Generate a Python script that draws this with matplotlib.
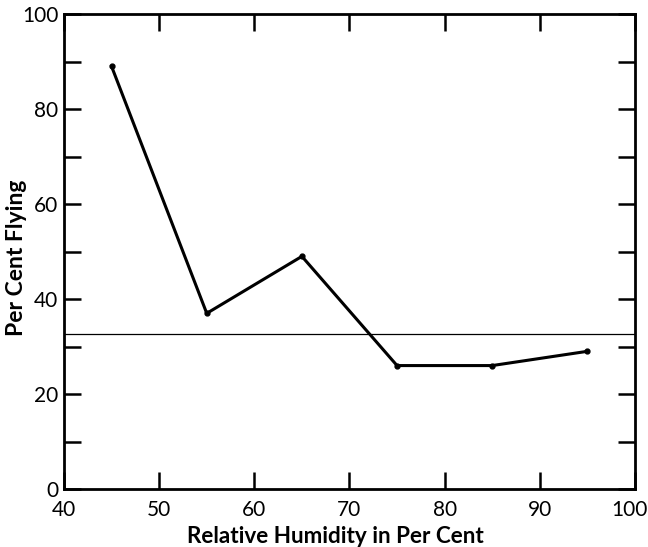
import numpy as np
import matplotlib
matplotlib.use("Agg")
import matplotlib.pyplot as plt
from matplotlib.transforms import ScaledTranslation

# relative humidity (%) vs per cent flying
humidity = [45, 55, 65, 75, 85, 95]
flying = [89, 37, 49, 26, 26, 29]
ref_level = 32.6

plt.rcParams['font.family'] = ['Lato', 'DejaVu Sans']

fig = plt.figure(figsize=(6.48, 5.47), dpi=100)
ax = fig.add_axes([0.0988, 0.106, 0.881, 0.868])

ax.plot(humidity, flying, color='black', lw=2.2, marker='o', ms=3.5,
        solid_joinstyle='miter')
ax.axhline(ref_level, color='black', lw=0.9)

ax.set_xlim(40, 100)
ax.set_ylim(0, 100)
ax.set_xticks(np.arange(40, 101, 10))
ax.set_yticks(np.arange(0, 101, 20))
ax.set_yticks(np.arange(10, 100, 20), minor=True)

ax.tick_params(which='both', direction='in', length=12, width=1.8,
               top=True, right=True, labelsize=15)
ax.tick_params(axis='x', pad=8)
ax.tick_params(axis='y', pad=4)
for s in ax.spines.values():
    s.set_linewidth(2.0)

# nudge the last x label so it stays inside the picture
lab = ax.get_xticklabels()[-1]
lab.set_transform(lab.get_transform() + ScaledTranslation(-4/72, 0, fig.dpi_scale_trans))

ax.set_xlabel("Relative Humidity in Per Cent", fontsize=16.2,
              fontweight='bold', va='center')
ax.xaxis.set_label_coords(0.476, -0.101)
ax.set_ylabel("Per Cent Flying", fontsize=16.5, fontweight='bold',
              va='center')
ax.yaxis.set_label_coords(-0.084, 0.488)

fig.savefig("out.png", dpi=100)
